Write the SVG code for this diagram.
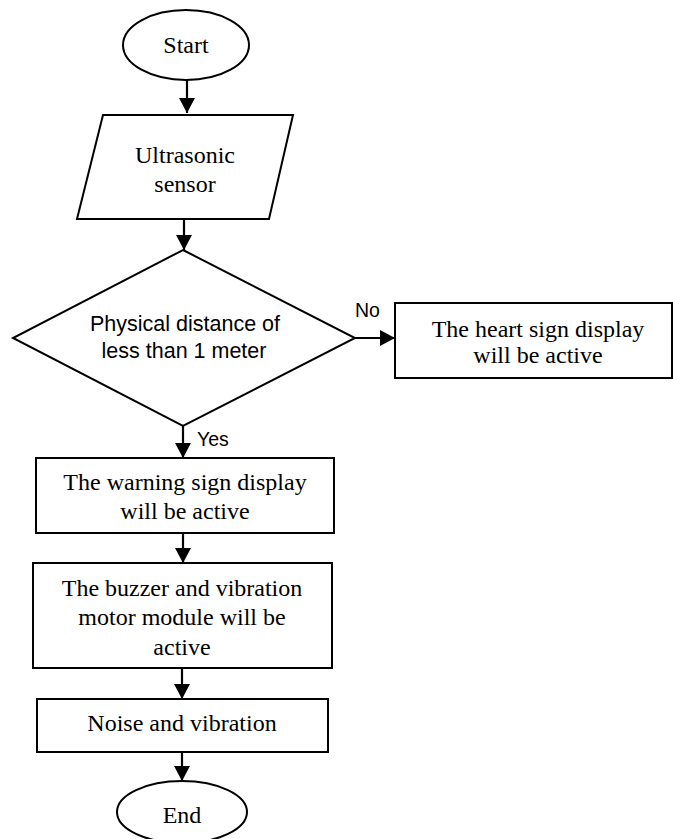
<svg xmlns="http://www.w3.org/2000/svg" width="673" height="839" viewBox="0 0 673 839">
<style>
.shape{fill:#fff;stroke:#000;stroke-width:2}
.t{font-family:"Liberation Serif","Times New Roman",serif;font-size:24px;fill:#000;text-anchor:middle}
.s{font-family:"Liberation Sans",Arial,sans-serif;font-size:21.5px;fill:#000;text-anchor:middle}
.lbl{font-family:"Liberation Sans",Arial,sans-serif;font-size:19.5px;fill:#000}
.c{fill:none;stroke:#000;stroke-width:2.2}
</style>
<defs>
<marker id="ah" markerUnits="userSpaceOnUse" markerWidth="16" markerHeight="16" viewBox="0 0 16 16" refX="15" refY="8" orient="auto">
<path d="M0,0 L15,8 L0,16 Z" fill="#000"/>
</marker>
</defs>
<rect width="673" height="839" fill="#fff"/>
<g id="connectors">
<line class="c" x1="187" y1="80" x2="187" y2="113" marker-end="url(#ah)"/>
<line class="c" x1="184" y1="219" x2="184" y2="250" marker-end="url(#ah)"/>
<line class="c" x1="354" y1="338" x2="395" y2="338" marker-end="url(#ah)"/>
<line class="c" x1="183" y1="426" x2="183" y2="458" marker-end="url(#ah)"/>
<line class="c" x1="183" y1="533" x2="183" y2="563" marker-end="url(#ah)"/>
<line class="c" x1="182" y1="668" x2="182" y2="699" marker-end="url(#ah)"/>
<line class="c" x1="182" y1="752" x2="182" y2="781" marker-end="url(#ah)"/>
<text class="lbl" x="355" y="317">No</text>
<text class="lbl" x="197" y="446">Yes</text>
</g>
<g id="start">
<ellipse class="shape" cx="186" cy="45" rx="63" ry="35"/>
<text class="t" x="186" y="53">Start</text>
</g>
<g id="sensor">
<polygon class="shape" points="103,115 293,115 269,219 77,219"/>
<text class="t" x="185" y="163">Ultrasonic</text>
<text class="t" x="185" y="192">sensor</text>
</g>
<g id="decision">
<polygon class="shape" points="183,250 355,338 183,426 13,338"/>
<text class="s" x="185" y="331">Physical distance of</text>
<text class="s" x="184" y="358">less than 1 meter</text>
</g>
<g id="heart">
<rect class="shape" x="395" y="303" width="277" height="75"/>
<text class="t" x="538" y="337">The heart sign display</text>
<text class="t" x="538" y="363">will be active</text>
</g>
<g id="warning">
<rect class="shape" x="36" y="458" width="298" height="75"/>
<text class="t" x="185" y="490">The warning sign display</text>
<text class="t" x="185" y="519">will be active</text>
</g>
<g id="buzzer">
<rect class="shape" x="33" y="563" width="299" height="105"/>
<text class="t" x="182" y="596">The buzzer and vibration</text>
<text class="t" x="182" y="625">motor module will be</text>
<text class="t" x="182" y="655">active</text>
</g>
<g id="noise">
<rect class="shape" x="37" y="699" width="291" height="53"/>
<text class="t" x="182" y="731">Noise and vibration</text>
</g>
<g id="end">
<ellipse class="shape" cx="182" cy="812" rx="65" ry="31"/>
<text class="t" x="182" y="823">End</text>
</g>
</svg>
